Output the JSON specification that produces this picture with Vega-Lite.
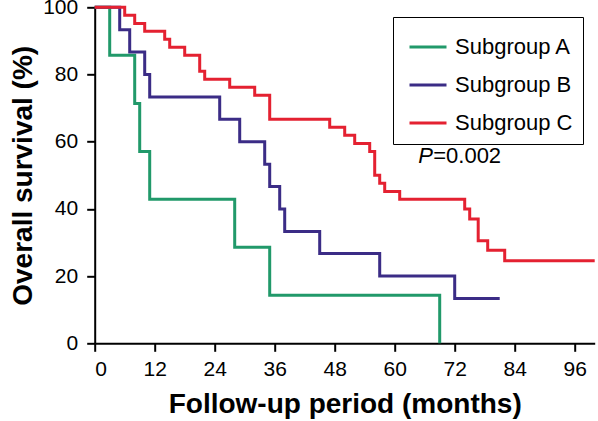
{
  "$schema": "https://vega.github.io/schema/vega-lite/v6.json",
  "width": 500,
  "height": 336,
  "autosize": {"type": "none"},
  "padding": {"left": 94.7, "top": 7.3, "right": 3.3, "bottom": 77.7},
  "background": "white",
  "config": {
    "font": "Liberation Sans",
    "view": {"stroke": null},
    "axis": {
      "grid": false,
      "domainColor": "black",
      "domainWidth": 2,
      "tickColor": "black",
      "tickWidth": 2,
      "tickSize": 8,
      "labelFontSize": 21,
      "labelColor": "black",
      "labelFont": "Liberation Sans",
      "titleFont": "Liberation Sans",
      "titleFontSize": 28,
      "titleFontWeight": "bold",
      "titleColor": "black"
    }
  },
  "datasets": {
    "curves": [
      {"group": "Subgroup A", "month": 0, "survival": 100},
      {"group": "Subgroup A", "month": 3, "survival": 85.7},
      {"group": "Subgroup A", "month": 8, "survival": 71.4},
      {"group": "Subgroup A", "month": 9, "survival": 57.1},
      {"group": "Subgroup A", "month": 11, "survival": 42.9},
      {"group": "Subgroup A", "month": 28, "survival": 28.6},
      {"group": "Subgroup A", "month": 35, "survival": 14.3},
      {"group": "Subgroup A", "month": 69, "survival": 0},
      {"group": "Subgroup B", "month": 0, "survival": 100},
      {"group": "Subgroup B", "month": 5, "survival": 93.3},
      {"group": "Subgroup B", "month": 7, "survival": 86.7},
      {"group": "Subgroup B", "month": 10, "survival": 80},
      {"group": "Subgroup B", "month": 11, "survival": 73.3},
      {"group": "Subgroup B", "month": 25, "survival": 66.7},
      {"group": "Subgroup B", "month": 29, "survival": 60},
      {"group": "Subgroup B", "month": 34, "survival": 53.3},
      {"group": "Subgroup B", "month": 35, "survival": 46.7},
      {"group": "Subgroup B", "month": 37, "survival": 40},
      {"group": "Subgroup B", "month": 38, "survival": 33.3},
      {"group": "Subgroup B", "month": 45, "survival": 26.7},
      {"group": "Subgroup B", "month": 57, "survival": 20},
      {"group": "Subgroup B", "month": 72, "survival": 13.3},
      {"group": "Subgroup B", "month": 81, "survival": 13.3},
      {"group": "Subgroup C", "month": 0, "survival": 100},
      {"group": "Subgroup C", "month": 6, "survival": 97.6},
      {"group": "Subgroup C", "month": 8, "survival": 95.2},
      {"group": "Subgroup C", "month": 10, "survival": 92.9},
      {"group": "Subgroup C", "month": 14, "survival": 90.5},
      {"group": "Subgroup C", "month": 15, "survival": 88.1},
      {"group": "Subgroup C", "month": 18, "survival": 85.7},
      {"group": "Subgroup C", "month": 21, "survival": 81},
      {"group": "Subgroup C", "month": 22, "survival": 78.6},
      {"group": "Subgroup C", "month": 27, "survival": 76.2},
      {"group": "Subgroup C", "month": 32, "survival": 73.8},
      {"group": "Subgroup C", "month": 35, "survival": 66.7},
      {"group": "Subgroup C", "month": 47, "survival": 64.3},
      {"group": "Subgroup C", "month": 50, "survival": 61.9},
      {"group": "Subgroup C", "month": 52, "survival": 59.5},
      {"group": "Subgroup C", "month": 55, "survival": 57.1},
      {"group": "Subgroup C", "month": 56, "survival": 50},
      {"group": "Subgroup C", "month": 57, "survival": 47.6},
      {"group": "Subgroup C", "month": 58, "survival": 45.2},
      {"group": "Subgroup C", "month": 61, "survival": 42.9},
      {"group": "Subgroup C", "month": 74, "survival": 40},
      {"group": "Subgroup C", "month": 75, "survival": 37},
      {"group": "Subgroup C", "month": 76.7, "survival": 30.5},
      {"group": "Subgroup C", "month": 78.6, "survival": 27.7},
      {"group": "Subgroup C", "month": 82, "survival": 24.6},
      {"group": "Subgroup C", "month": 100, "survival": 24.6}
    ],
    "notes": [
      {"part": "P", "month": 64.72, "survival": 53.57},
      {"part": "=0.002", "month": 67.7, "survival": 53.57}
    ]
  },
  "layer": [
    {
      "data": {"name": "curves"},
      "mark": {"type": "line", "interpolate": "step-after", "strokeWidth": 3, "clip": false},
      "encoding": {
        "x": {
          "field": "month",
          "type": "quantitative",
          "scale": {"domain": [0, 100], "nice": false},
          "axis": {"values": [0, 12, 24, 36, 48, 60, 72, 84, 96], "labelPadding": 7, "titlePadding": 11, "title": "Follow-up period (months)"}
        },
        "y": {
          "field": "survival",
          "type": "quantitative",
          "scale": {"domain": [0, 100], "nice": false},
          "axis": {"values": [0, 20, 40, 60, 80, 100], "labelPadding": 9, "titlePadding": 5, "title": "Overall survival (%)"}
        },
        "color": {
          "field": "group",
          "type": "nominal",
          "scale": {"domain": ["Subgroup A", "Subgroup B", "Subgroup C"], "range": ["#21996a", "#3b2c86", "#e42131"]},
          "legend": {
            "title": null,
            "orient": "none",
            "legendX": 298.3,
            "legendY": 9.7,
            "symbolType": "stroke",
            "symbolSize": 1369,
            "symbolStrokeWidth": 3,
            "labelFontSize": 22,
            "labelColor": "black",
            "labelOffset": 7,
            "symbolOffset": 5,
            "padding": 10,
            "rowPadding": 7,
            "strokeColor": "black",
            "fillColor": "white",
            "cornerRadius": 0
          }
        }
      }
    },
    {
      "data": {"name": "notes"},
      "transform": [{"filter": "datum.part === 'P'"}],
      "mark": {"type": "text", "align": "left", "baseline": "alphabetic", "fontSize": 22, "fontStyle": "italic", "color": "black"},
      "encoding": {
        "x": {"field": "month", "type": "quantitative"},
        "y": {"field": "survival", "type": "quantitative"},
        "text": {"field": "part"}
      }
    },
    {
      "data": {"name": "notes"},
      "transform": [{"filter": "datum.part !== 'P'"}],
      "mark": {"type": "text", "align": "left", "baseline": "alphabetic", "fontSize": 22, "color": "black"},
      "encoding": {
        "x": {"field": "month", "type": "quantitative"},
        "y": {"field": "survival", "type": "quantitative"},
        "text": {"field": "part"}
      }
    }
  ]
}
